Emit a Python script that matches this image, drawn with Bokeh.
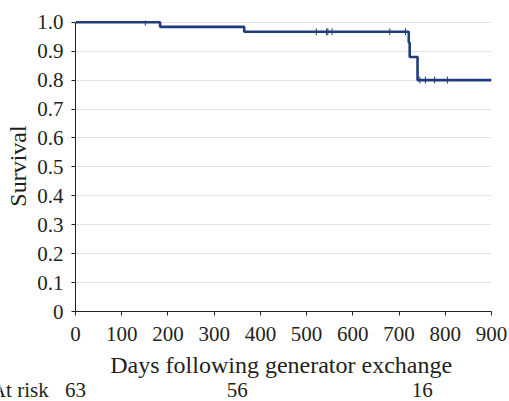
import numpy as np
from bokeh.plotting import figure
from bokeh.models import Range1d, FixedTicker
from bokeh.layouts import column
from bokeh.core.properties import value
from bokeh.embed import file_html
from bokeh.resources import INLINE

# Kaplan-Meier step data (days, survival after the event)
event_days = [0, 183, 365, 721, 723, 740, 900]
survival = [1.0, 0.984, 0.967, 0.93, 0.88, 0.80, 0.80]

# censoring marks
censor_days = [151, 521, 543, 546, 555, 680, 714, 745, 757, 777, 805]
censor_surv = [1.0, 0.967, 0.967, 0.967, 0.967, 0.967, 0.967, 0.80, 0.80, 0.80, 0.80]

# numbers at risk
risk_days = [0, 350, 750]
risk_counts = ["63", "56", "16"]
risk_title = "At risk"
x_title = "Days following generator exchange"

x_ticks = [0, 100, 200, 300, 400, 500, 600, 700, 800, 900]
y_ticks = [0, 0.1, 0.2, 0.3, 0.4, 0.5, 0.6, 0.7, 0.8, 0.9, 1.0]

FONT = "Liberation Serif"
TXT = "#231f20"
LINE = "#1e3d7b"

W = 509
LEFT, RIGHT = 75, 18
H1 = 350
H2 = 51

p = figure(width=W, height=H1, output_backend="svg", toolbar_location=None,
           x_range=Range1d(0, 900), y_range=Range1d(0, 1.006),
           min_border_left=LEFT, min_border_right=RIGHT, min_border_top=20,
           min_border_bottom=H1 - 311)
p.outline_line_color = None
p.background_fill_color = "white"

p.step(event_days, survival, mode="after", line_color=LINE, line_width=2.6)
p.scatter(censor_days, censor_surv, marker="dash", angle=np.pi / 2, size=7,
          line_color=LINE, line_width=1)

p.xgrid.grid_line_color = None
p.ygrid.grid_line_color = "#e3e3e3"
p.ygrid.grid_line_width = 1

p.xaxis.ticker = FixedTicker(ticks=x_ticks)
p.yaxis.ticker = FixedTicker(ticks=y_ticks)
p.yaxis.bounds = (0, 1.0)
p.yaxis.major_label_overrides = {0: "0", 1.0: "1.0"}
p.xaxis.minor_tick_line_color = None
p.yaxis.minor_tick_line_color = None
for ax in (p.xaxis, p.yaxis):
    ax.axis_line_color = TXT
    ax.major_tick_line_color = TXT
    ax.major_tick_in = 0
    ax.major_tick_out = 4
    ax.major_label_text_font = FONT
    ax.major_label_text_font_size = "21px"
    ax.major_label_text_color = TXT
    ax.axis_label_text_font = FONT
    ax.axis_label_text_font_size = "24px"
    ax.axis_label_text_font_style = "normal"
    ax.axis_label_text_color = TXT
p.xaxis.major_label_standoff = 11
p.yaxis.major_label_standoff = 8
p.yaxis.axis_label = "Survival"
p.yaxis.axis_label_standoff = 3

# strip under the chart: x-axis title and at-risk row, in the same day scale
px_per_day = (W - LEFT - RIGHT) / 900.0
p2 = figure(width=W, height=H2, output_backend="svg", toolbar_location=None,
            x_range=Range1d(-LEFT / px_per_day, 900 + RIGHT / px_per_day),
            y_range=Range1d(H2, 0),
            min_border_left=0, min_border_right=0, min_border_top=0, min_border_bottom=0)
p2.axis.visible = False
p2.grid.grid_line_color = None
p2.outline_line_color = None
p.frame_align = False
p2.frame_align = False

p2.text([445], [14], text=[x_title], text_align="center", text_baseline="middle",
        text_font=value(FONT), text_font_size="24px", text_color=TXT)
p2.text(risk_days, [39] * len(risk_days), text=risk_counts, text_align="center",
        text_baseline="middle", text_font=value(FONT), text_font_size="21px", text_color=TXT)
p2.text([-58], [39], text=[risk_title], text_align="right", text_baseline="middle",
        text_font=value(FONT), text_font_size="21px", text_color=TXT)

layout = column(p, p2, spacing=0)
open("out.html", "w").write(file_html(layout, INLINE))
